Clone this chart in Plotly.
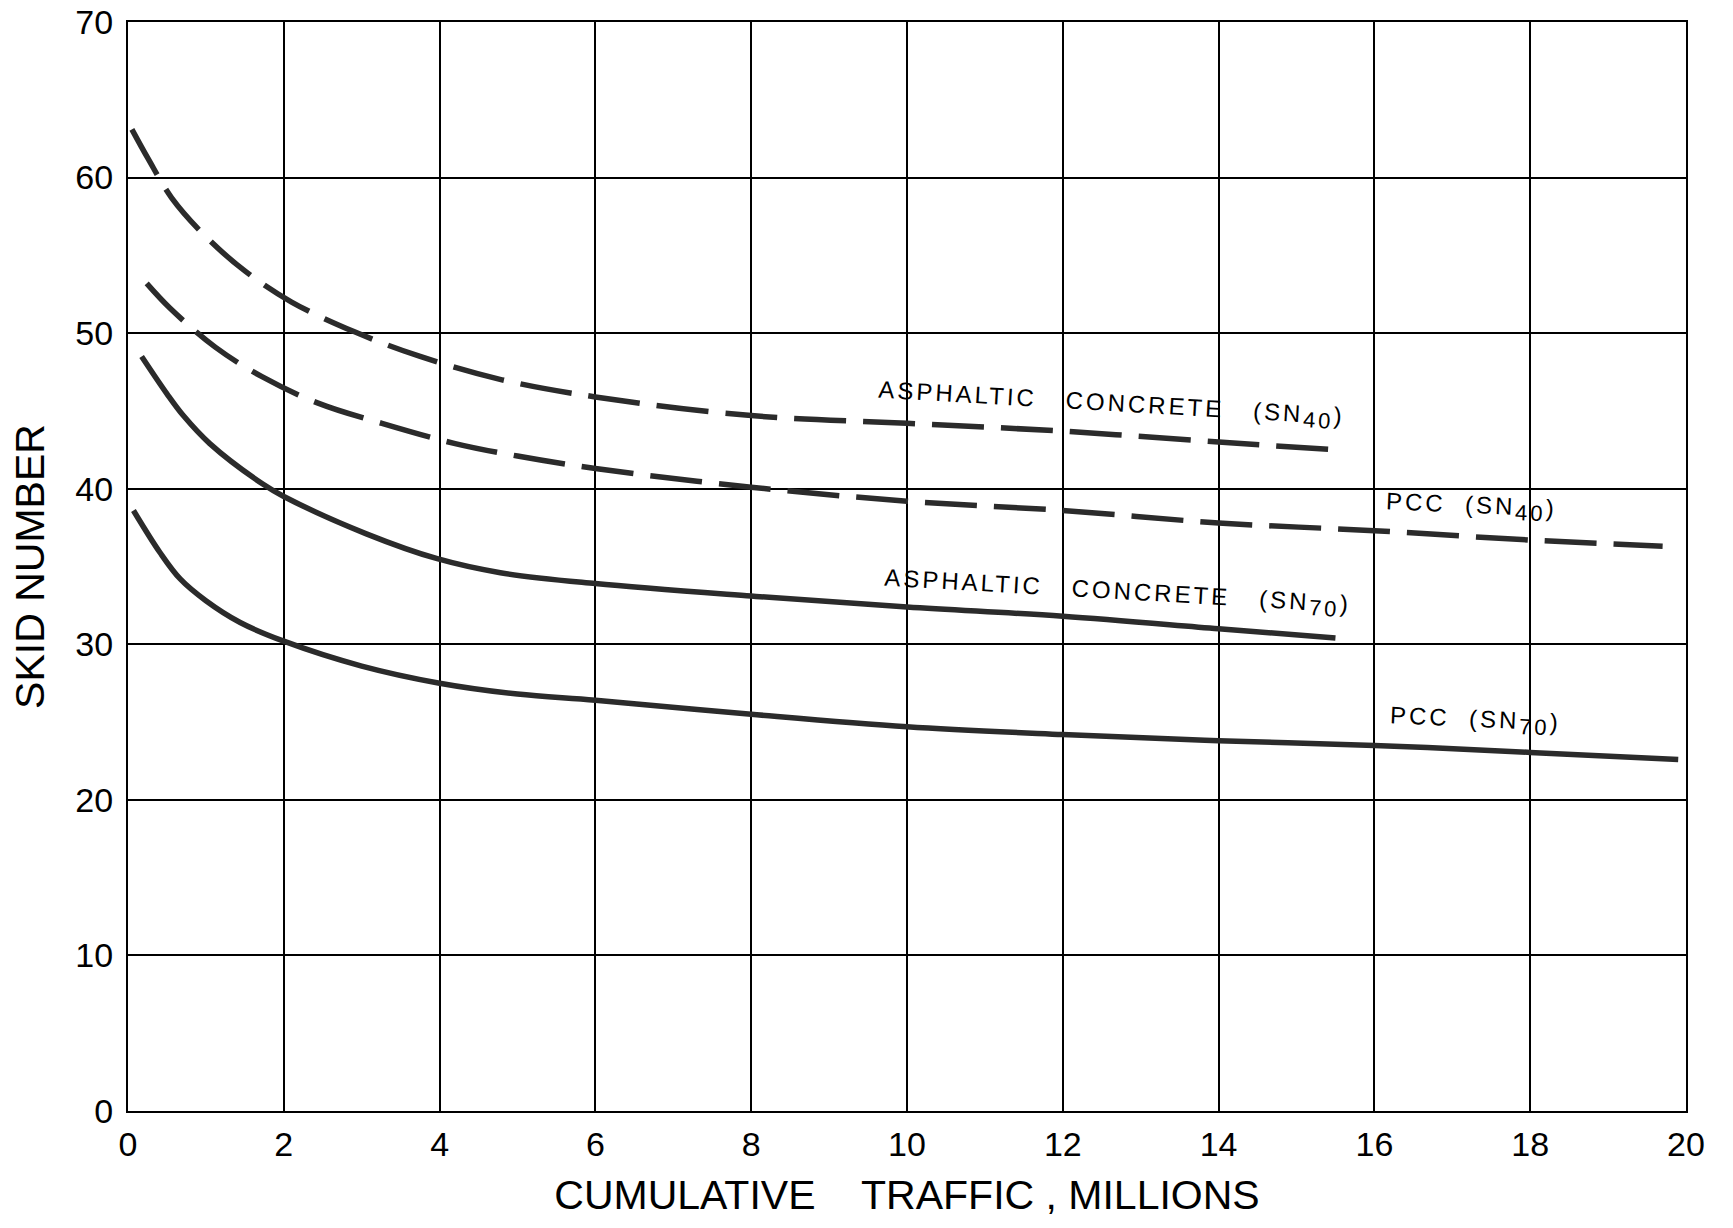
import plotly.graph_objects as go

# skid number vs cumulative traffic (millions)
traffic_ac40 = [0.05, 0.26, 0.56, 1.0, 1.5, 2.1, 2.9, 3.75, 4.8, 6, 8, 10, 12, 14, 15.5]
sn_ac40 = [63.1, 61.2, 58.7, 56.2, 54.0, 52.0, 50.1, 48.5, 47.0, 45.9, 44.7, 44.2, 43.7, 43.0, 42.5]

traffic_pcc40 = [0.24, 0.54, 1.12, 1.72, 2.44, 3.26, 4.2, 5, 6, 8, 10, 12, 14, 16, 18, 19.7]
sn_pcc40 = [53.2, 51.6, 49.1, 47.2, 45.5, 44.2, 42.9, 42.1, 41.3, 40.1, 39.2, 38.6, 37.8, 37.3, 36.7, 36.3]

traffic_ac70 = [0.175, 0.5, 0.71, 1.05, 1.73, 2.0, 3.06, 3.97, 4.78, 6, 8, 10, 12, 14, 15.5]
sn_ac70 = [48.5, 46.1, 44.7, 42.9, 40.3, 39.5, 37.1, 35.5, 34.6, 33.9, 33.1, 32.4, 31.8, 31.0, 30.4]

traffic_pcc70 = [0.07, 0.41, 0.67, 1.0, 1.44, 2.0, 3, 4, 5, 6, 8, 10, 12, 14, 16, 18, 19.9]
sn_pcc70 = [38.6, 35.9, 34.2, 32.8, 31.4, 30.2, 28.6, 27.5, 26.8, 26.4, 25.5, 24.7, 24.2, 23.8, 23.5, 23.05, 22.6]

x_ticks = [0, 2, 4, 6, 8, 10, 12, 14, 16, 18, 20]
y_ticks = [0, 10, 20, 30, 40, 50, 60, 70]

# label text, subscript, anchor point (x, y) and tilt
labels = [
    ("ASPHALTIC&nbsp;&nbsp;&nbsp;CONCRETE&nbsp;&nbsp;&nbsp;(SN", "40", 12.62, 45.4, 3.3),
    ("PCC&nbsp;&nbsp;(SN", "40", 17.25, 38.85, 2.5),
    ("ASPHALTIC&nbsp;&nbsp;&nbsp;CONCRETE&nbsp;&nbsp;&nbsp;(SN", "70", 12.7, 33.3, 3.3),
    ("PCC&nbsp;&nbsp;(SN", "70", 17.3, 25.1, 2.5),
]

INK = "#2b2b2b"
FONT = "Liberation Sans"

fig = go.Figure()

series = [
    (traffic_ac40, sn_ac40, "52px,17px"),
    (traffic_pcc40, sn_pcc40, "52px,17px"),
    (traffic_ac70, sn_ac70, "solid"),
    (traffic_pcc70, sn_pcc70, "solid"),
]
for xs, ys, dash in series:
    fig.add_trace(go.Scatter(
        x=xs, y=ys, mode="lines",
        line=dict(color=INK, width=5.5, dash=dash, shape="spline", smoothing=1.0),
        showlegend=False, hoverinfo="skip",
    ))

for text, sub, lx, ly, ang in labels:
    fig.add_annotation(
        x=lx, y=ly, xref="x", yref="y",
        text=(f'<span style="letter-spacing:3px">{text}'
              f'<sub><span style="font-size:22px">{sub}</span></sub>)</span>'),
        showarrow=False, textangle=ang,
        font=dict(family=FONT, size=24, color="black"),
    )

axis_common = dict(
    showline=True, linecolor="black", linewidth=2, mirror=True,
    showgrid=True, gridcolor="black", gridwidth=1.5,
    zeroline=False, ticks="", automargin=False, ticklabeloverflow="allow",
    tickfont=dict(family=FONT, size=34, color="black"),
)

fig.update_xaxes(
    range=[0, 20], tickvals=x_ticks, ticktext=[str(v) for v in x_ticks],
    ticklabelstandoff=2,
    title=dict(text="CUMULATIVE&nbsp;&nbsp;&nbsp;&nbsp;TRAFFIC , MILLIONS",
               font=dict(family=FONT, size=41, color="black"), standoff=19),
    **axis_common,
)
fig.update_yaxes(
    range=[0, 70], tickvals=y_ticks, ticktext=[str(v) for v in y_ticks],
    ticklabelstandoff=6,
    title=dict(text="SKID NUMBER",
               font=dict(family=FONT, size=41, color="black"), standoff=18),
    **axis_common,
)

fig.update_layout(
    width=1733, height=1228,
    margin=dict(l=128, r=47, t=22, b=117),
    plot_bgcolor="white", paper_bgcolor="white",
)

# drop the browser's default body margin so the figure sits at the page corner
fig.write_html(
    "out.html",
    config={"displayModeBar": False},
    post_script="document.body.style.margin='0';",
)
